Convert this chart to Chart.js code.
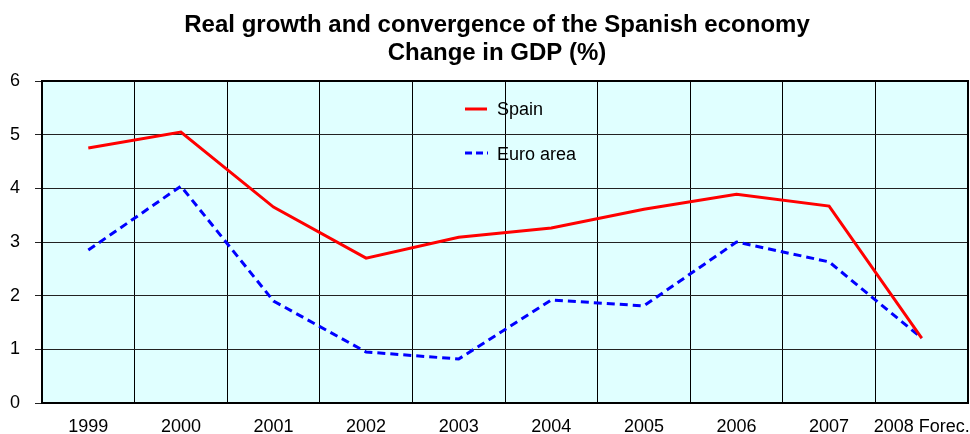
<!DOCTYPE html>
<html>
<head>
<meta charset="utf-8">
<script src="https://cdn.jsdelivr.net/npm/chart.js@4/dist/chart.umd.min.js"></script>
<style>
  html, body { margin: 0; padding: 0; background: #fff; }
  #wrap { width: 970px; height: 434px; }
</style>
</head>
<body>
<div id="wrap"><canvas id="c" width="970" height="434"></canvas></div>
<script>
// data
const years = ['1999', '2000', '2001', '2002', '2003', '2004', '2005', '2006', '2007', '2008 Forec.'];
const spain = [4.75, 5.05, 3.65, 2.7, 3.09, 3.26, 3.61, 3.89, 3.67, 1.21];
const euroArea = [2.85, 4.04, 1.9, 0.95, 0.82, 1.92, 1.81, 3.0, 2.63, 1.21];
const titleLines = ['Real growth and convergence of the Spanish economy', 'Change in GDP (%)'];

const FONT = 'Arial, "Liberation Sans", sans-serif';

// cyan plot background, title and the in-plot legend
const decor = {
    id: 'decor',
    beforeDraw(chart) {
        const { ctx, chartArea: a } = chart;
        ctx.save();
        ctx.fillStyle = '#e0ffff';
        ctx.fillRect(a.left, a.top, a.right - a.left, a.bottom - a.top);
        ctx.restore();
    },
    afterDraw(chart) {
        const { ctx, chartArea: a } = chart;
        ctx.save();
        // title
        ctx.fillStyle = '#000';
        ctx.font = 'bold 24px ' + FONT;
        ctx.textAlign = 'center';
        ctx.textBaseline = 'middle';
        ctx.fillText(titleLines[0], 497, 25);
        ctx.fillText(titleLines[1], 497, 53);

        // legend
        ctx.font = '18px ' + FONT;
        ctx.textAlign = 'left';
        ctx.lineWidth = 3;
        ctx.strokeStyle = '#ff0000';
        ctx.beginPath();
        ctx.moveTo(465, 109);
        ctx.lineTo(487, 109);
        ctx.stroke();
        ctx.fillText('Spain', 497, 110);

        ctx.strokeStyle = '#0000ff';
        ctx.setLineDash([7, 4]);
        ctx.beginPath();
        ctx.moveTo(465, 153);
        ctx.lineTo(488, 153);
        ctx.stroke();
        ctx.setLineDash([]);
        ctx.fillText('Euro area', 497, 155);

        // plot frame
        ctx.strokeStyle = '#000';
        ctx.lineWidth = 2;
        ctx.strokeRect(a.left, a.top, a.right - a.left, a.bottom - a.top);
        ctx.restore();
    }
};

new Chart(document.getElementById('c'), {
    type: 'line',
    data: {
        labels: years,
        datasets: [
            {
                label: 'Spain',
                data: spain,
                borderColor: '#ff0000',
                borderWidth: 3,
                pointRadius: 0,
                tension: 0,
                fill: false
            },
            {
                label: 'Euro area',
                data: euroArea,
                borderColor: '#0000ff',
                borderWidth: 3,
                borderDash: [8, 5],
                pointRadius: 0,
                tension: 0,
                fill: false
            }
        ]
    },
    options: {
        responsive: false,
        animation: false,
        layout: { padding: { top: 81, right: 2, left: 0, bottom: 0 } },
        plugins: {
            legend: { display: false },
            title: { display: false },
            tooltip: { enabled: false }
        },
        scales: {
            x: {
                offset: true,
                grid: { offset: true, color: '#000', lineWidth: 1, drawTicks: false },
                border: { display: false },
                ticks: { color: '#000', font: { family: FONT, size: 18 }, padding: 13, maxRotation: 0, autoSkip: false },
                afterFit: (s) => { s.height = 31; s.paddingLeft = 0; s.paddingRight = 0; }
            },
            y: {
                min: 0,
                max: 6,
                grid: { color: '#222', lineWidth: 1, borderDash: [6, 2], tickLength: 7, tickBorderDash: [] },
                border: { display: false },
                ticks: { stepSize: 1, color: '#000', font: { family: FONT, size: 18 }, padding: 15 },
                afterFit: (s) => { s.width = 42; s.paddingTop = 0; s.paddingBottom = 0; }
            }
        }
    },
    plugins: [decor]
});
</script>
</body>
</html>
